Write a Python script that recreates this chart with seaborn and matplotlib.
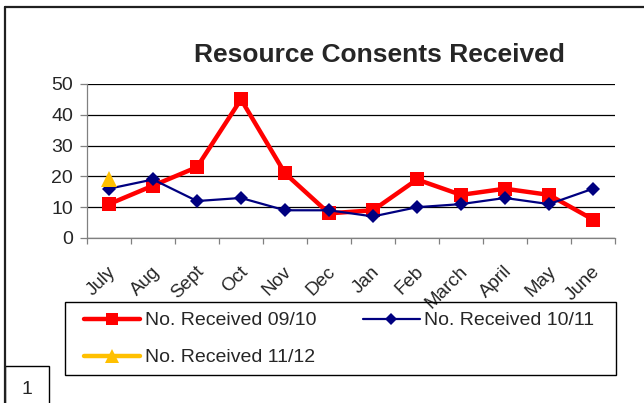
import matplotlib
matplotlib.use("Agg")
import matplotlib.pyplot as plt
from matplotlib.lines import Line2D
from matplotlib.patches import Rectangle
from matplotlib.transforms import ScaledTranslation
import seaborn as sns
import pandas as pd

months = ["July", "Aug", "Sept", "Oct", "Nov", "Dec", "Jan", "Feb",
          "March", "April", "May", "June"]
received_0910 = [11, 17, 23, 45, 21, 8, 9, 19, 14, 16, 14, 6]
received_1011 = [16, 19, 12, 13, 9, 9, 7, 10, 11, 13, 11, 16]
received_1112 = [19]
series_names = ["No. Received 09/10", "No. Received 10/11", "No. Received 11/12"]
y_ticks = [0, 10, 20, 30, 40, 50]

sns.set_style("white")
plt.rcParams["font.family"] = ["Liberation Sans", "DejaVu Sans"]

W, H = 644, 403
fig = plt.figure(figsize=(W / 100, H / 100), dpi=100)
ax = fig.add_axes([87 / W, 1 - 238 / H, (615 - 87) / W, (238 - 84) / H])

df_a = pd.DataFrame({"month": months, "value": received_0910})
df_b = pd.DataFrame({"month": months, "value": received_1011})
df_c = pd.DataFrame({"month": months[:len(received_1112)], "value": received_1112})

sns.lineplot(data=df_a, x="month", y="value", ax=ax, color="#ff0000",
             linewidth=3.2, marker="s", markersize=10, markeredgewidth=0,
             label=series_names[0], zorder=3, sort=False)
sns.lineplot(data=df_b, x="month", y="value", ax=ax, color="#000080",
             linewidth=1.6, marker="D", markersize=7.5, markeredgewidth=0,
             label=series_names[1], zorder=4, sort=False)
sns.lineplot(data=df_c, x="month", y="value", ax=ax, color="#ffc000",
             linewidth=3.2, marker="^", markersize=12, markeredgewidth=0,
             label=series_names[2], zorder=5, sort=False)

ax.set_xlim(-0.5, len(months) - 0.5)
ax.set_ylim(0, 50)
ax.set_yticks(y_ticks)
ax.set_yticklabels([str(t) for t in y_ticks], fontsize=14)
ax.grid(axis="y", color="black", linewidth=0.9)
ax.set_axisbelow(True)
ax.set_xlabel("")
ax.set_ylabel("")

ax.set_xticks(range(len(months)))
ax.set_xticklabels(months, fontsize=13.5, rotation=45, ha="right",
                   rotation_mode="anchor")
ax.set_xticks([i - 0.5 for i in range(len(months) + 1)], minor=True)
ax.tick_params(axis="x", which="major", length=0, pad=18)
ax.tick_params(axis="x", which="minor", length=4, width=0.9, color="#808080",
               direction="out", bottom=True)
ax.tick_params(axis="y", length=5, width=0.9, color="#808080",
               direction="out", left=True, pad=5)
for lab in ax.get_xticklabels():
    lab.set_transform(lab.get_transform() +
                      ScaledTranslation(-0.02, 0.0, fig.dpi_scale_trans))

for side in ("top", "right"):
    ax.spines[side].set_visible(False)
for side in ("left", "bottom"):
    ax.spines[side].set_color("#808080")
    ax.spines[side].set_linewidth(0.9)

# legend: entries ordered so that column filling gives 09/10, 10/11 on the first row
ax.get_legend().remove()
handles, labels = ax.get_legend_handles_labels()
order = [0, 2, 1]
leg = fig.legend([handles[i] for i in order], [labels[i] for i in order],
                 ncol=2, loc="upper left",
                 bbox_to_anchor=(78 / W, 1 - 306 / H),
                 frameon=False, fontsize=14, markerscale=0.8,
                 handlelength=2.9, handletextpad=0.25, borderaxespad=0,
                 labelspacing=1.0, columnspacing=2.4, borderpad=0.3)
fig.add_artist(Rectangle((65 / W, 1 - 375 / H), (616 - 65) / W, (375 - 302) / H,
                         fill=False, edgecolor="black", lw=1.0,
                         transform=fig.transFigure))

fig.text(379 / W, 1 - 55 / H, "Resource Consents Received", fontsize=19,
         fontweight="bold", ha="center", va="center")

# chart frame and page number box
fig.add_artist(Line2D([5 / W, 5 / W], [0, 1 - 7 / H], color="#202020", lw=1.6))
fig.add_artist(Line2D([5 / W, 1], [1 - 7 / H, 1 - 7 / H], color="#202020", lw=1.6))
fig.add_artist(Rectangle((5 / W, -0.01), 44 / W, (403 - 366) / H + 0.01,
                         fill=False, edgecolor="black", lw=1.0,
                         transform=fig.transFigure))
fig.text(27 / W, 1 - 389 / H, "1", fontsize=14, ha="center", va="center")

fig.savefig("out.png", dpi=100)
